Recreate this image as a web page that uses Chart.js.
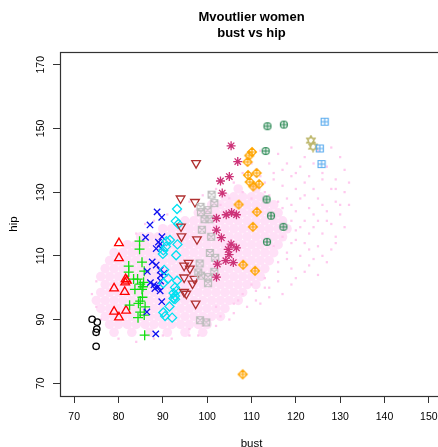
<!DOCTYPE html>
<html>
<head>
<meta charset="utf-8">
<script src="https://cdn.jsdelivr.net/npm/chart.js@4.4.1/dist/chart.umd.min.js"></script>
<style>
  html, body { margin: 0; padding: 0; overflow: hidden; background: #fff; }
  #wrap { width: 438px; height: 447px; overflow: hidden; position: relative; }
  canvas { display: block; }
</style>
</head>
<body>
<div id="wrap"><canvas id="chart" width="470" height="455"></canvas></div>
<script>
// axis ticks
const xTicks = [70, 80, 90, 100, 110, 120, 130, 140, 150];
const yTicks = [70, 90, 110, 130, 150, 170];

// cluster points, [bust, hip]
const grpBlack = [[74.05, 90.1], [75.2, 89.2], [75.1, 87.0], [74.95, 86.0], [74.95, 81.6]];
const grpRed = [[80.1, 114.0], [80.1, 109.3], [81.6, 102.7], [81.9, 102.2], [81.5, 101.7], [79.0, 99.8],
  [81.4, 98.7], [79.0, 92.5], [81.7, 92.8], [80.1, 90.7]];
const grpGreen = [[84.75, 114.6], [84.75, 112.1], [85.3, 108.0], [82.3, 106.8], [85.8, 105.2], [82.3, 104.9],
  [83.4, 102.7], [84.3, 102.7], [85.65, 101.7], [84.9, 101.1], [85.5, 100.3], [83.7, 99.5], [85.3, 99.5],
  [85.4, 97.0], [84.9, 95.8], [84.5, 95.1], [82.5, 94.5], [86.0, 94.0], [84.9, 92.3], [85.8, 91.4],
  [84.4, 90.6], [85.9, 85.1]];
const grpBlue = [[88.7, 123.8], [89.75, 122.1], [87.1, 119.7], [86.1, 115.8], [89.8, 116.0], [89.0, 114.3],
  [89.4, 113.7], [88.5, 112.3], [89.6, 112.4], [87.6, 108.1], [88.5, 107.1], [86.5, 105.1], [89.4, 105.5],
  [90.3, 104.6], [89.5, 103.9], [87.2, 101.6], [88.0, 100.9], [88.9, 100.3], [89.5, 102.1], [88.2, 99.75],
  [89.4, 99.0], [89.75, 95.6], [86.4, 92.4], [88.4, 85.5]];
const grpCyan = [[93.2, 124.7], [92.9, 120.9], [93.5, 120.0], [91.6, 115.0], [90.8, 114.6], [93.3, 113.6],
  [90.7, 112.9], [90.1, 111.7], [90.0, 110.6], [93.0, 110.2], [90.3, 105.6], [91.2, 102.9], [93.2, 102.2],
  [90.1, 101.4], [92.75, 100.1], [93.1, 99.0], [92.4, 98.3], [92.75, 97.4], [92.4, 96.6], [92.75, 96.4],
  [91.5, 94.1], [90.1, 92.2], [90.5, 91.1], [92.1, 90.6]];
const grpBrown = [[97.5, 139.1], [94.0, 128.0], [97.25, 126.9], [94.1, 119.2], [94.2, 116.1], [97.7, 115.2],
  [94.8, 106.9], [95.8, 107.8], [96.1, 106.0], [94.8, 103.2], [96.7, 101.3], [97.1, 102.8], [94.8, 98.7],
  [95.3, 98.1], [97.4, 95.0]];
const grpGray = [[101.0, 129.2], [101.6, 126.55], [98.5, 125.4], [100.1, 124.35], [98.6, 123.7], [99.4, 121.5],
  [100.5, 121.5], [98.8, 118.2], [100.9, 116.0], [100.6, 110.9], [101.8, 109.4], [98.3, 107.6], [101.6, 105.0],
  [98.0, 104.8], [98.6, 103.8], [100.2, 103.3], [100.2, 101.4], [98.4, 89.8], [99.8, 89.1]];
const grpMagenta = [[105.4, 144.55], [106.9, 139.6], [105.0, 134.9], [103.0, 133.5], [103.4, 129.7],
  [102.1, 121.8], [104.3, 122.9], [105.5, 123.6], [106.6, 122.9], [102.1, 118.1], [103.2, 115.7],
  [105.4, 113.7], [106.6, 112.5], [104.75, 112.0], [104.95, 110.4], [104.2, 108.5], [105.9, 107.9],
  [102.3, 107.4], [102.1, 103.3]];
const grpOrange = [[110.1, 142.6], [109.5, 141.5], [109.1, 139.5], [109.2, 135.35], [111.15, 136.0],
  [109.6, 133.2], [110.4, 131.8], [111.7, 132.5], [107.1, 126.1], [111.2, 123.8], [110.3, 119.1],
  [108.1, 107.2], [110.8, 105.3], [108.0, 72.8]];
const grpSea = [[113.6, 150.7], [117.3, 151.2], [113.2, 142.9], [113.4, 127.7], [114.4, 122.6],
  [117.2, 119.1], [113.5, 114.4]];
const grpKhaki = [[123.4, 146.2], [123.9, 144.3]];
const grpSky = [[126.5, 152.1], [125.4, 143.7], [125.8, 138.8]];

// pink background cloud: dense rows [hip, busts] and sparse single points [bust, hip]
const cloudRows = [
  [86, [79, 83, 87, 91, 95, 99]],
  [88.5, [78, 80, 82, 84, 86, 88, 90, 92, 94, 96, 98, 100]],
  [91, [77, 79, 81, 83, 85, 87, 89, 91, 93, 95, 97, 99, 101, 103]],
  [93.5, [76, 78, 80, 82, 84, 86, 88, 90, 92, 94, 96, 98, 100, 102, 104]],
  [96, [75, 77, 79, 81, 83, 85, 87, 89, 91, 93, 95, 97, 99, 101, 103, 105, 107]],
  [98.5, [76, 78, 80, 82, 84, 86, 88, 90, 92, 94, 96, 98, 100, 102, 104, 106, 108]],
  [101, [77, 79, 81, 83, 85, 87, 89, 91, 93, 95, 97, 99, 101, 103, 105, 107, 109, 111]],
  [103.5, [76, 78, 80, 82, 84, 86, 88, 90, 92, 94, 96, 98, 100, 102, 104, 106, 108, 110, 112]],
  [106, [77, 79, 81, 83, 85, 87, 89, 91, 93, 95, 97, 99, 101, 103, 105, 107, 109, 111, 113]],
  [108.5, [78, 80, 82, 84, 86, 88, 90, 92, 94, 96, 98, 100, 102, 104, 106, 108, 110, 112, 114]],
  [111, [79, 81, 83, 85, 87, 89, 91, 93, 95, 97, 99, 101, 103, 105, 107, 109, 111, 113, 115]],
  [113.5, [82, 84, 86, 88, 90, 92, 94, 96, 98, 100, 102, 104, 106, 108, 110, 112, 114, 116]],
  [116, [85, 87, 89, 91, 93, 95, 97, 99, 101, 103, 105, 107, 109, 111, 113, 115, 117]],
  [118.5, [90, 92, 94, 96, 98, 100, 102, 104, 106, 108, 110, 112, 114, 116, 118]],
  [121, [95, 97, 99, 101, 103, 105, 107, 109, 111, 113, 115, 117]],
  [123.5, [98, 100, 102, 104, 106, 108, 110, 112, 114, 116]],
  [126, [101, 103, 105, 107, 109, 111, 113, 115]],
  [128.5, [104, 106, 108, 110, 112]],
  [131, [107, 111]]
];
const cloudSparse = [[112, 143], [116, 142], [119, 144], [122, 141], [125, 143], [128, 144], [130, 141],
  [110, 139], [114, 139], [118, 139], [121, 138], [124, 139], [127, 138], [131, 137],
  [108, 136], [112, 135], [115, 136], [119, 135], [123, 135], [126, 134], [129, 134], [132, 133],
  [106, 133], [110, 132], [113, 133], [117, 132], [120, 131], [124, 131], [128, 131], [131, 130],
  [114, 129], [118, 128], [121, 128], [125, 128], [129, 127], [132, 126],
  [117, 125], [120, 124], [123, 125], [127, 124], [130, 123],
  [119, 121], [122, 121], [125, 121], [128, 120], [131, 119],
  [120, 118], [123, 117], [126, 117], [129, 116],
  [119, 114], [122, 114], [125, 113], [128, 112],
  [118, 111], [121, 110], [124, 109], [127, 108],
  [116, 108], [119, 106], [122, 105], [125, 104],
  [110, 101], [113, 103], [116, 102], [119, 101],
  [108, 98], [111, 99], [114, 97], [117, 98],
  [102, 94], [106, 95], [109, 94], [112, 95],
  [100, 90], [103, 91], [106, 92], [96, 87], [99, 88], [102, 88],
  [80, 84], [84, 83], [88, 84], [92, 84], [96, 85],
  [76, 90], [75, 94], [74, 98], [75, 102],
  [84, 117], [86, 120], [88, 121], [91, 123], [94, 124], [96, 127], [99, 129], [102, 131],
  [111, 137], [115, 134], [117, 137], [120, 136], [122, 133], [126, 136], [129, 131], [113, 130],
  [116, 127], [119, 126], [122, 129], [126, 126], [124, 123], [127, 121], [130, 126], [121, 119],
  [124, 119], [117, 116], [120, 115], [123, 112], [126, 110], [129, 114], [115, 113], [118, 109],
  [120, 103], [123, 107], [113, 100], [116, 105], [111, 96], [114, 100], [107, 96], [105, 90],
  [98, 85], [90, 85], [86, 85], [110, 128], [108, 130], [105, 128], [103, 126], [100, 124]];

const FONT = '"Liberation Sans", Arial, Helvetica, sans-serif';

const pts = arr => arr.map(p => ({x: p[0], y: p[1]}));
const cloudDense = cloudRows.flatMap(r => r[1].map(b => ({x: b, y: r[0]})));

// small canvases for R symbols chart.js doesnt have
function icon(size, color, draw) {
  const c = document.createElement('canvas');
  c.width = size; c.height = size;
  const g = c.getContext('2d');
  g.strokeStyle = color;
  g.lineWidth = 1.2;
  g.beginPath();
  draw(g, size / 2);
  g.stroke();
  return c;
}
const sqCross = icon(10, '#BEBEBE', (g, m) => {
  g.rect(1.5, 1.5, 7, 7);
  g.moveTo(1.5, 1.5); g.lineTo(8.5, 8.5);
  g.moveTo(8.5, 1.5); g.lineTo(1.5, 8.5);
});
const diaPlus = icon(12, '#FFA500', (g, m) => {
  g.moveTo(m, 1.5); g.lineTo(10.5, m); g.lineTo(m, 10.5); g.lineTo(1.5, m); g.closePath();
  g.moveTo(m, 1.5); g.lineTo(m, 10.5);
  g.moveTo(1.5, m); g.lineTo(10.5, m);
});
const circPlus = icon(10, '#2E8B57', (g, m) => {
  g.arc(m, m, 3.5, 0, Math.PI * 2);
  g.moveTo(m, 1.5); g.lineTo(m, 8.5);
  g.moveTo(1.5, m); g.lineTo(8.5, m);
});
const hexagram = icon(12, '#BDB76B', (g, m) => {
  g.moveTo(6, 1); g.lineTo(10.3, 8.5); g.lineTo(1.7, 8.5); g.closePath();
  g.moveTo(6, 11); g.lineTo(10.3, 3.5); g.lineTo(1.7, 3.5); g.closePath();
});
const sqPlus = icon(10, '#5CACEE', (g, m) => {
  g.rect(1.5, 1.5, 7, 7);
  g.moveTo(m, 1.5); g.lineTo(m, 8.5);
  g.moveTo(1.5, m); g.lineTo(8.5, m);
});

function set(data, style, color, radius, extra) {
  return Object.assign({
    data: pts(data), pointStyle: style, radius: radius,
    borderColor: color, backgroundColor: 'rgba(0,0,0,0)', borderWidth: 1.3
  }, extra || {});
}

const datasets = [
  set(grpSky, sqPlus, '#5CACEE', 5),
  set(grpKhaki, hexagram, '#BDB76B', 6),
  set(grpSea, circPlus, '#2E8B57', 5),
  set(grpOrange, diaPlus, '#FFA500', 6),
  set(grpMagenta, 'star', '#CD3278', 4.5),
  set(grpGray, sqCross, '#BEBEBE', 5),
  set(grpBrown, 'triangle', '#B03030', 5, {rotation: 180}),
  set(grpCyan, 'rectRot', '#00E0F0', 4.5),
  set(grpBlue, 'crossRot', '#1010F0', 4.5),
  set(grpGreen, 'cross', '#10E010', 5),
  set(grpRed, 'triangle', '#FF0000', 5),
  set(grpBlack, 'circle', '#000000', 3.2),
  {data: pts(cloudSparse), pointStyle: 'rect', radius: 1.6, backgroundColor: '#FFC9EE', borderWidth: 0},
  {data: cloudDense, pointStyle: 'circle', radius: 4.8, backgroundColor: '#FFE0F7', borderWidth: 0}
];

const boxPlugin = {
  id: 'box',
  afterDatasetsDraw(chart) {
    const {ctx, chartArea: a} = chart;
    ctx.save();
    ctx.strokeStyle = '#333';
    ctx.lineWidth = 1.2;
    ctx.strokeRect(Math.round(a.left) + 0.5, Math.round(a.top) + 0.5,
      Math.round(a.right - a.left), Math.round(a.bottom - a.top));
    ctx.restore();
  }
};

new Chart(document.getElementById('chart'), {
  type: 'scatter',
  data: {datasets: datasets},
  options: {
    responsive: false,
    animation: false,
    events: [],
    layout: {padding: {left: 0, right: 27, top: 0, bottom: 0}},
    plugins: {
      legend: {display: false},
      tooltip: {enabled: false},
      title: {
        display: true,
        fullSize: false,
        text: ['Mvoutlier women', 'bust vs hip'],
        color: '#000',
        font: {family: FONT, size: 13, weight: 'bold', lineHeight: 1.23},
        padding: {top: 9.5, bottom: 10.5}
      }
    },
    scales: {
      x: {
        type: 'linear', min: 66.8, max: 153.2,
        afterBuildTicks: s => { s.ticks = xTicks.map(v => ({value: v})); },
        afterFit: s => { s.height = 59; },
        grid: {drawOnChartArea: false, drawTicks: true, tickLength: 7, color: '#333'},
        border: {display: false},
        ticks: {color: '#000', font: {family: FONT, size: 10.5}, padding: 8, autoSkip: false, maxRotation: 0},
        title: {display: true, text: 'bust', color: '#000', font: {family: FONT, size: 11.5}, padding: {top: 0, bottom: 4}}
      },
      y: {
        type: 'linear', min: 66, max: 174,
        afterBuildTicks: s => { s.ticks = yTicks.map(v => ({value: v})); },
        afterFit: s => { s.width = 60; },
        grid: {drawOnChartArea: false, drawTicks: true, tickLength: 7, color: '#333'},
        border: {display: false},
        ticks: {color: '#000', font: {family: FONT, size: 10.5}, padding: 3.5, autoSkip: false,
          minRotation: 90, maxRotation: 90, crossAlign: 'center'},
        title: {display: true, text: 'hip', color: '#000', font: {family: FONT, size: 11.5}, padding: {top: 7.4, bottom: 0}}
      }
    }
  },
  plugins: [boxPlugin]
});
</script>
</body>
</html>
